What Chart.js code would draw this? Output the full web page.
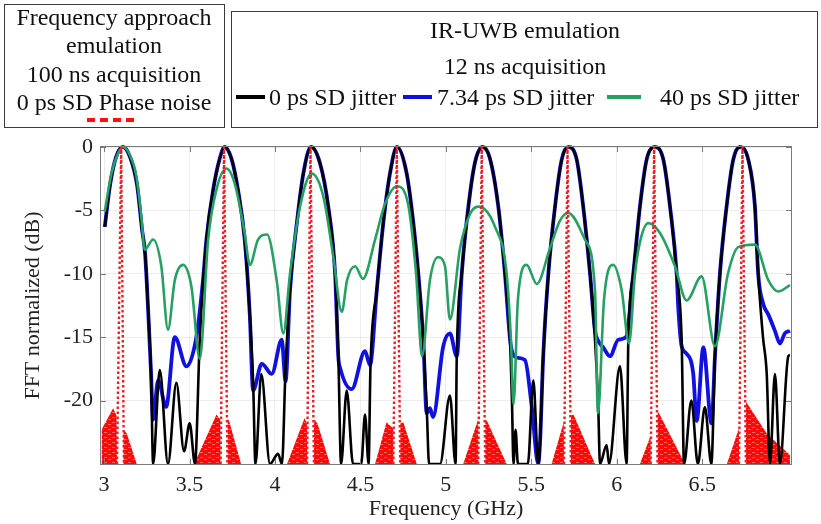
<!DOCTYPE html>
<html><head><meta charset="utf-8">
<script src="https://cdn.jsdelivr.net/npm/chart.js@4.4.0/dist/chart.umd.min.js"></script>
<style>
html,body{margin:0;padding:0;background:#fff;}
#wrap{position:relative;width:821px;height:524px;overflow:hidden;font-family:'Liberation Serif','Times New Roman',serif;color:#111;}
canvas{position:absolute;left:0;top:0;}
.box{position:absolute;border:1.5px solid #3a3a3a;box-sizing:border-box;background:#fff;}
.t{position:absolute;white-space:nowrap;font-size:24px;line-height:26px;}
.c{transform:translateX(-50%);}
.sw{position:absolute;height:4px;}
</style></head><body>
<div id="wrap">
<canvas id="c" width="821" height="524"></canvas>
<div class="box" style="left:4px;top:4px;width:221px;height:124px"></div>
<div class="box" style="left:231px;top:11px;width:587px;height:117px"></div>
<div class="t c" style="left:114px;top:4px">Frequency approach</div>
<div class="t c" style="left:114px;top:32px">emulation</div>
<div class="t c" style="left:114px;top:61px">100 ns acquisition</div>
<div class="t c" style="left:114px;top:89px">0 ps SD Phase noise</div>
<svg style="position:absolute;left:86px;top:116px" width="52" height="8"><line x1="1" y1="4" x2="51" y2="4" stroke="#ff1010" stroke-width="4" stroke-dasharray="8 5"/></svg>
<div class="t c" style="left:525px;top:17px">IR-UWB emulation</div>
<div class="t c" style="left:525px;top:53px">12 ns acquisition</div>
<div class="sw" style="left:236px;top:95px;width:29px;background:#000"></div>
<div class="t" style="left:269px;top:84px">0 ps SD jitter</div>
<div class="sw" style="left:403px;top:95px;width:29px;background:#1010e0"></div>
<div class="t" style="left:437px;top:84px">7.34 ps SD jitter</div>
<div class="sw" style="left:607px;top:95px;width:34px;background:#27a064"></div>
<div class="t" style="left:660px;top:84px">40 ps SD jitter</div>
</div>
<script>
const xTicks=[3,3.5,4,4.5,5,5.5,6,6.5];
const yTicks=[0,-5,-10,-15,-20];

const blackFreq=[3.004,3.035,3.070,3.111,3.152,3.193,3.222,3.240,3.257,3.275,
3.287,3.326,3.374,3.423,3.468,3.501,3.532,3.560,3.599,3.638,
3.677,3.705,3.745,3.784,3.823,3.853,3.872,3.886,3.920,3.971,
4.018,4.041,4.062,4.088,4.128,4.166,4.211,4.264,4.312,4.352,
4.371,4.387,4.420,4.457,4.505,4.527,4.548,4.559,4.596,4.634,
4.673,4.714,4.771,4.810,4.839,4.868,4.888,4.902,4.966,5.024,
5.057,5.064,5.093,5.132,5.171,5.215,5.258,5.307,5.346,5.376,
5.387,5.396,5.408,5.422,5.480,5.512,5.541,5.551,5.570,5.600,
5.639,5.678,5.717,5.766,5.804,5.844,5.873,5.892,5.902,5.941,
5.955,6.019,6.058,6.068,6.097,6.136,6.175,6.224,6.273,6.312,
6.351,6.380,6.394,6.437,6.475,6.516,6.554,6.575,6.604,6.643,
6.682,6.721,6.770,6.809,6.828,6.856,6.878,6.897,6.926,6.955,
7.004,7.014];
const blackDb=[-6.3,-3.0,-0.8,0,-0.8,-3.0,-6.5,-8.4,-12.6,-17.9,
-25,-17.6,-25,-18.6,-24,-21.8,-25,-15.2,-7.3,-3.4,
-0.9,0,-0.9,-3.4,-7.3,-13.3,-18.4,-25,-17.9,-25,
-24.2,-25,-17.5,-11.3,-6.0,-2.1,0,-1.3,-4.7,-10,
-16.6,-25,-19.2,-25,-25,-21.1,-25,-17.3,-11.3,-6.0,
-2.1,0,-2.1,-6.0,-10,-15.2,-20.5,-25,-25,-19.6,
-25,-16.5,-10,-4.7,-1.2,0,-0.9,-4.7,-10,-15.2,
-20,-25,-22.3,-25,-25,-18.4,-25,-23.4,-16.5,-10,
-4.7,-1,0,-1,-4.7,-10,-15.2,-20.5,-25,-23.5,
-25,-17.3,-25,-15.2,-10,-4.7,-1,0,-1,-4.7,
-10,-15.2,-25,-20.0,-25,-20.5,-25,-16.5,-10,-4.7,
-1,0,-1,-4.7,-10,-15,-17.9,-25,-17.9,-25,
-16.5,-16.4];

const blueFreq=[3.004,3.035,3.070,3.111,3.152,3.193,3.222,3.240,3.257,3.275,
3.287,3.316,3.363,3.414,3.482,3.540,3.579,3.599,3.638,3.677,
3.705,3.745,3.784,3.823,3.853,3.872,3.923,3.981,4.040,4.062,
4.088,4.128,4.166,4.211,4.264,4.312,4.352,4.371,4.381,4.449,
4.527,4.556,4.596,4.634,4.673,4.714,4.771,4.810,4.839,4.868,
4.888,4.907,4.925,4.985,5.024,5.064,5.093,5.132,5.171,5.215,
5.258,5.307,5.346,5.376,5.385,5.411,5.463,5.503,5.541,5.551,
5.570,5.600,5.639,5.678,5.717,5.766,5.804,5.844,5.873,5.892,
5.921,5.961,6.009,6.054,6.097,6.136,6.175,6.224,6.273,6.312,
6.351,6.360,6.380,6.409,6.448,6.468,6.507,6.555,6.575,6.604,
6.643,6.682,6.721,6.770,6.809,6.828,6.858,6.887,6.926,6.955,
6.984,7.014];
const blueDb=[-6.3,-3.0,-0.8,0,-0.8,-3.0,-6.5,-8.4,-12.6,-17.9,
-21.5,-18.4,-20.5,-15.0,-17.3,-15.0,-10.5,-7.3,-3.4,-0.9,
0,-0.9,-3.4,-7.3,-13.3,-19.2,-17.1,-17.9,-15.2,-18.5,
-11.3,-6.0,-2.1,0,-1.3,-4.7,-10,-16.6,-17.4,-19.1,
-16.1,-17.2,-11.3,-6.0,-2.1,0,-2.1,-6,-10,-15.2,
-21.0,-20.6,-21.3,-15.7,-14.7,-16.5,-10,-4.7,-1.2,0,
-0.9,-4.7,-10,-15.2,-16.0,-16.6,-16.8,-20.5,-25,-23.4,
-16.5,-10,-4.7,-1,0,-1,-4.7,-10,-14.5,-15.3,
-15.8,-16.5,-15.2,-15.0,-10,-4.7,-1,0,-1,-4.7,
-10,-12.6,-15.7,-16.3,-17.9,-21.6,-15.8,-21.8,-16.5,-10,
-4.7,-1,0,-1,-4.7,-10,-12.4,-13.2,-14.5,-15.5,
-14.7,-14.5];

const greenFreq=[3.004,3.043,3.082,3.111,3.150,3.189,3.218,3.238,3.287,3.335,
3.374,3.414,3.462,3.511,3.560,3.609,3.657,3.716,3.765,3.823,
3.853,3.901,3.954,4.010,4.049,4.088,4.147,4.215,4.283,4.342,
4.391,4.422,4.469,4.515,4.586,4.644,4.714,4.779,4.826,4.861,
4.907,4.954,4.995,5.024,5.083,5.141,5.190,5.288,5.356,5.381,
5.396,5.422,5.473,5.532,5.609,5.668,5.717,5.814,5.873,5.890,
5.926,5.980,6.029,6.072,6.107,6.136,6.185,6.254,6.341,6.409,
6.497,6.575,6.651,6.711,6.809,6.887,6.945,7.014];
const greenDb=[-5.1,-2.1,-0.5,0,-0.6,-2.3,-5.5,-8.1,-7.3,-9.4,
-14.4,-10.5,-9.3,-11.0,-16.7,-7.3,-3.4,-1.7,-2.9,-6.8,
-9.3,-7.3,-6.9,-10.5,-14.7,-10.0,-4.7,-2.1,-3.9,-8.7,
-13.0,-10.5,-9.4,-10.4,-7.3,-4.5,-3.1,-4.5,-10,-16.5,
-10.5,-8.7,-9.4,-13.6,-8,-5.3,-4.7,-6.3,-10,-15.2,
-20.3,-12,-9.3,-10.8,-8,-5.8,-5.2,-7.3,-11.3,-21,
-12,-9.3,-11.3,-15.5,-10,-7.5,-6.0,-6.8,-9.4,-12.1,
-10.2,-15.7,-10,-7.9,-7.7,-10.5,-11.4,-10.9];

const spikeFreq=[3.076,3.100,3.116,3.116, 3.682,3.702,3.722,3.722, 4.188,4.208,4.228,4.228,
4.693,4.713,4.733,4.733, 5.190,5.210,5.230,5.230, 5.692,5.712,5.732,5.732,
6.199,6.219,6.239,6.239, 6.716,6.736,6.756];
const spikeDb=[-25,0,-25,null, -25,0,-25,null, -25,0,-25,null,
-25,0,-25,null, -25,0,-25,null, -25,0,-25,null,
-25,0,-25,null, -25,0,-25];

const floorFreq=[2.985,3.053,3.073,3.076,3.111,3.114,3.133,3.191,
3.527,3.658,3.680,3.681,3.723,3.724,3.734,3.802,
4.071,4.173,4.187,4.188,4.228,4.229,4.249,4.322,
4.586,4.653,4.692,4.693,4.733,4.734,4.751,4.830,
5.102,5.189,5.190,5.230,5.231,5.241,5.356,
5.619,5.690,5.691,5.732,5.733,5.747,5.873,
6.136,6.198,6.199,6.239,6.240,6.400,
6.645,6.715,6.716,6.756,6.757,6.878,7.014];
const floorDb=[-22.3,-20.6,-21.2,-25,-25,-22.3,-22.6,-25,
-25,-21.1,-21.5,-25,-25,-21.4,-21.7,-25,
-25,-21.4,-21.8,-25,-25,-21.5,-21.8,-25,
-25,-21.7,-22.2,-25,-25,-21.8,-21.7,-25,
-25,-21.5,-25,-25,-21.5,-21.6,-25,
-25,-21.7,-25,-25,-21.2,-21.1,-25,
-25,-22.8,-25,-25,-20.8,-25,
-25,-22.2,-25,-25,-20.1,-22.6,-24.3];

const pts=(xs,ys)=>xs.map((x,i)=>({x:x,y:ys[i]}));

// red fill pattern with faint light streaks
const pc=document.createElement('canvas');pc.width=8;pc.height=5;
const pctx=pc.getContext('2d');
pctx.fillStyle='#ff0808';pctx.fillRect(0,0,8,5);
pctx.fillStyle='rgba(255,170,170,0.6)';pctx.fillRect(0,2,3,1);pctx.fillRect(4,4,3,1);
const ctx0=document.getElementById('c').getContext('2d');
const floorPattern=ctx0.createPattern(pc,'repeat');

const serif="'Liberation Serif','Times New Roman',serif";

const boxPlugin={id:'box',afterDatasetsDraw(chart){
  const a=chart.chartArea,ctx=chart.ctx,xs=chart.scales.x,ys=chart.scales.y;
  ctx.save();ctx.strokeStyle='#7a7a7a';ctx.lineWidth=1;
  ctx.strokeRect(a.left-0.5,a.top-0.5,a.right-a.left+1,a.bottom-a.top+1);
  ctx.beginPath();
  xTicks.forEach(v=>{const p=Math.round(xs.getPixelForValue(v))+0.5;
    ctx.moveTo(p,a.bottom);ctx.lineTo(p,a.bottom-5);ctx.moveTo(p,a.top);ctx.lineTo(p,a.top+5);});
  yTicks.forEach(v=>{const p=Math.round(ys.getPixelForValue(v))+0.5;
    ctx.moveTo(a.left,p);ctx.lineTo(a.left+5,p);ctx.moveTo(a.right,p);ctx.lineTo(a.right-5,p);});
  ctx.stroke();ctx.restore();
}};

new Chart(ctx0,{
  type:'line',
  data:{datasets:[
    {label:'0 ps SD Phase noise',data:pts(spikeFreq,spikeDb),borderColor:'#ee1c24',borderWidth:2.4,borderDash:[2.6,2.4],
     pointRadius:0,tension:0,spanGaps:false,fill:false,order:1,clip:{left:0,right:0,top:3,bottom:0}},
    {label:'40 ps SD jitter',data:pts(greenFreq,greenDb),borderColor:'#27a064',borderWidth:2.6,pointRadius:0,
     cubicInterpolationMode:'monotone',fill:false,order:2,clip:{left:0,right:0,top:3,bottom:0}},
    {label:'0 ps SD jitter',data:pts(blackFreq,blackDb),borderColor:'#000000',borderWidth:2.6,pointRadius:0,
     cubicInterpolationMode:'monotone',fill:false,order:3,clip:{left:0,right:0,top:3,bottom:0}},
    {label:'7.34 ps SD jitter',data:pts(blueFreq,blueDb),borderColor:'#1010e0',borderWidth:3.8,pointRadius:0,
     cubicInterpolationMode:'monotone',fill:false,order:4,clip:{left:0,right:0,top:3,bottom:0}},
    {label:'phase noise floor',data:pts(floorFreq,floorDb),borderWidth:0,borderColor:'rgba(0,0,0,0)',backgroundColor:floorPattern,
     pointRadius:0,tension:0,fill:'start',order:6,clip:0}
  ]},
  options:{
    responsive:false,animation:false,devicePixelRatio:1,
    layout:{padding:{left:0,top:147,right:30,bottom:0}},
    plugins:{legend:{display:false},tooltip:{enabled:false}},
    events:[],
    scales:{
      x:{type:'linear',min:2.982,max:7.02,
        afterBuildTicks:s=>{s.ticks=xTicks.map(v=>({value:v}));},
        afterFit:s=>{s.height=60;},
        ticks:{font:{family:serif,size:22},color:'#222',padding:8,callback:v=>String(v)},
        grid:{color:'rgba(0,0,0,0.07)',drawTicks:false},border:{display:false},
        title:{display:true,text:'Frequency (GHz)',font:{family:serif,size:22},color:'#222',padding:{top:0,bottom:2}}},
      y:{type:'linear',min:-25,max:0,
        afterBuildTicks:s=>{s.ticks=yTicks.map(v=>({value:v}));},
        afterFit:s=>{s.width=101;},
        ticks:{font:{family:serif,size:22},color:'#222',padding:8,callback:v=>String(v)},
        grid:{color:'rgba(0,0,0,0.07)',drawTicks:false},border:{display:false},
        title:{display:true,text:'FFT normalized (dB)',font:{family:serif,size:22},color:'#222',padding:{top:20,bottom:0}}}
    }
  },
  plugins:[boxPlugin]
});
</script>
</body></html>
